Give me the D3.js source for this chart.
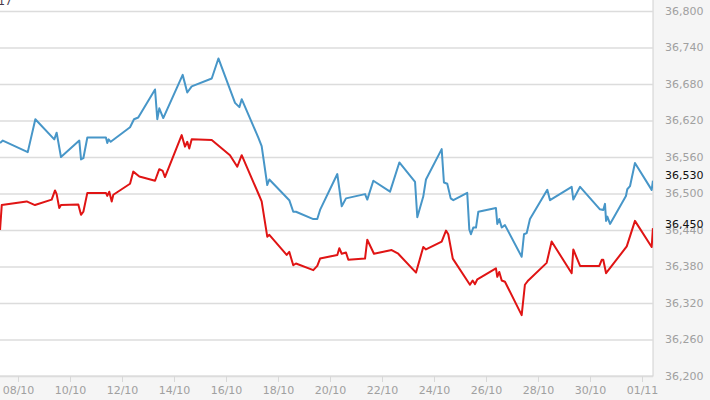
<!DOCTYPE html>
<html>
<head>
<meta charset="utf-8">
<script src="https://cdn.jsdelivr.net/npm/d3@7"></script>
<style>
  html, body { margin: 0; padding: 0; background: #f5f5f5; }
  svg { display: block; }
</style>
</head>
<body>
<div id="chart"></div>
<script>
// ---- Data ----
const year = 2017;
const sellTimes = ["10-07 07:25","10-07 10:00","10-08 09:00","10-08 16:00","10-09 09:30","10-09 11:40","10-09 15:40",
  "10-10 08:35","10-10 10:10","10-10 12:20","10-10 16:00","10-11 09:10","10-11 10:25","10-11 11:40","10-11 13:35",
  "10-12 07:25","10-12 11:05","10-12 15:00","10-13 06:30","10-13 08:35","10-13 10:25","10-13 14:05",
  "10-14 08:00","10-14 12:15","10-14 16:20","10-15 10:50","10-15 17:00","10-16 08:20","10-16 12:20","10-16 14:30",
  "10-17 05:50","10-17 08:55","10-17 14:05","10-17 16:00","10-18 10:25","10-18 14:05","10-18 16:35",
  "10-19 08:35","10-19 12:15","10-19 14:50","10-20 06:45","10-20 10:50","10-20 14:45","10-21 08:20","10-21 10:25","10-21 16:00",
  "10-22 07:25","10-22 16:00","10-23 06:30","10-23 08:35","10-23 14:05","10-23 16:35","10-24 07:05","10-24 09:10","10-24 12:15",
  "10-24 15:25","10-24 17:50","10-25 06:40","10-25 08:35","10-25 10:05","10-25 12:15","10-25 14:45","10-25 16:55",
  "10-26 09:10","10-26 10:25","10-26 12:15","10-26 14:30","10-26 17:30","10-27 08:55","10-27 11:05","10-27 13:35","10-27 16:35",
  "10-28 08:35","10-28 11:05","10-29 07:05","10-29 08:35","10-29 14:50","10-30 09:10","10-30 12:15","10-30 13:50","10-30 14:50",
  "10-30 16:00","10-30 18:30","10-31 09:10","10-31 10:25","10-31 12:55","10-31 17:30","11-01 08:55","11-01 10:05"];
const sellValues = [36583,36587,36568,36622,36589,36600,36560,
  36587,36556,36558,36592,36592,36583,36589,36585,
  36609,36622,36625,36671,36622,36640,36624,
  36695,36666,36676,36689,36722,36649,36642,36655,
  36592,36578,36514,36523,36489,36470,36470,
  36458,36458,36473,36532,36479,36492,36499,36490,36521,
  36503,36551,36519,36461,36495,36523,36573,36518,36516,
  36492,36489,36501,36441,36433,36444,36444,36470,
  36476,36450,36458,36444,36448,36396,36433,36435,36458,
  36506,36489,36511,36490,36511,36474,36473,36483,36455,
  36462,36450,36496,36507,36512,36550,36506,36521];

const buyTimes = ["10-07 07:25","10-07 09:00","10-08 08:00","10-08 15:40","10-09 07:05","10-09 10:10","10-09 11:40","10-09 14:05","10-09 15:40",
  "10-10 07:40","10-10 10:10","10-10 12:20","10-10 16:00","10-11 09:10","10-11 10:25","10-11 12:15","10-11 14:30","10-11 16:00",
  "10-12 07:25","10-12 10:25","10-12 16:00","10-13 06:30","10-13 10:25","10-13 13:35","10-13 15:40",
  "10-14 07:05","10-14 10:10","10-14 12:15","10-14 14:05","10-14 16:20","10-15 10:50","10-16 03:40","10-16 10:25","10-16 14:30",
  "10-17 05:50","10-17 08:55","10-17 14:05","10-17 16:00","10-18 08:00","10-18 10:25","10-18 14:05","10-18 16:35",
  "10-19 08:35","10-19 12:15","10-19 14:50","10-20 06:45","10-20 08:35","10-20 10:50","10-20 14:45","10-20 16:55",
  "10-21 08:20","10-21 10:25","10-21 16:35","10-22 08:55","10-22 15:00","10-23 07:25","10-23 14:05","10-23 16:35",
  "10-24 07:05","10-24 11:05","10-24 13:10","10-24 17:20","10-25 09:10","10-25 11:40","10-25 13:50","10-25 16:00",
  "10-26 09:10","10-26 10:25","10-26 12:15","10-26 14:30","10-26 17:30","10-27 08:55","10-27 11:55","10-27 15:00",
  "10-28 08:00","10-28 12:35","10-29 07:05","10-29 08:35","10-29 14:50","10-30 08:35","10-30 10:50","10-30 12:15","10-30 14:50",
  "10-31 09:55","10-31 17:30","11-01 08:55","11-01 10:05"];
const buyValues = [36440,36481,36487,36481,36490,36505,36499,36476,36481,
  36482,36465,36470,36501,36501,36496,36503,36487,36498,
  36516,36536,36528,36521,36540,36537,36527,
  36596,36577,36585,36574,36589,36588,36563,36544,36563,
  36500,36487,36429,36432,36399,36404,36382,36385,
  36374,36381,36393,36399,36410,36401,36403,36391,
  36393,36424,36401,36407,36401,36370,36412,36408,
  36421,36439,36433,36393,36350,36357,36351,36359,
  36377,36363,36371,36357,36355,36300,36350,36357,
  36386,36421,36369,36408,36381,36381,36391,36391,36369,
  36413,36455,36412,36443];

const xTickDates = ["10-08","10-10","10-12","10-14","10-16","10-18","10-20","10-22","10-24","10-26","10-28","10-30","11-01"];
const xTickLabels = ["08/10","10/10","12/10","14/10","16/10","18/10","20/10","22/10","24/10","26/10","28/10","30/10","01/11"];
const yTicks = [36200,36260,36320,36380,36440,36500,36560,36620,36680,36740,36800];
const currentLabels = [{text: "36,530", value: 36530}, {text: "36,450", value: 36450}];

// ---- Layout ----
const W = 710, H = 400;
const plot = {left: 0, right: 653, top: -20, bottom: 376};

const parseT = d3.timeParse("%Y-%m-%d %H:%M");
const parseD = d3.timeParse("%Y-%m-%d");
const sell = sellTimes.map((t, i) => ({t: parseT(year + "-" + t), v: sellValues[i]}));
const buy = buyTimes.map((t, i) => ({t: parseT(year + "-" + t), v: buyValues[i]}));

const x = d3.scaleTime()
  .domain([parseT(year + "-10-07 07:23"), parseT(year + "-11-01 10:09")])
  .range([plot.left, plot.right]);
const y = d3.scaleLinear().domain([36200, 36800]).range([376, 11]);

const svg = d3.select("#chart").append("svg").attr("width", W).attr("height", H);

svg.append("rect").attr("x", 0).attr("y", 0).attr("width", W).attr("height", H).attr("fill", "#f5f5f5");
svg.append("rect").attr("x", plot.left - 2).attr("y", plot.top).attr("width", plot.right - plot.left + 2)
  .attr("height", plot.bottom - plot.top).attr("fill", "#fff").attr("stroke", "#d0d0d0").attr("stroke-width", 1);

svg.append("defs").append("clipPath").attr("id", "clip")
  .append("rect").attr("x", plot.left).attr("y", plot.top).attr("width", plot.right - plot.left).attr("height", plot.bottom - plot.top);

// grid
const yAxis = d3.axisRight(y).tickValues(yTicks).tickSize(plot.right - plot.left).tickFormat("");
const gy = svg.append("g").attr("transform", `translate(${plot.left},0)`).call(yAxis);
gy.select(".domain").remove();
gy.selectAll("line").attr("stroke", "#dcdcdc").attr("stroke-width", 1.6);

// y labels
svg.append("g").selectAll("text").data(yTicks).join("text")
  .attr("x", 665).attr("y", d => y(d)).attr("dy", "0.36em")
  .attr("font-family", "DejaVu Sans, Verdana, sans-serif").attr("font-size", 11).attr("fill", "#a0a0a0")
  .text(d => d3.format(",")(d));

// x axis
const xAxis = d3.axisBottom(x).tickValues(xTickDates.map(d => parseD(year + "-" + d)))
  .tickSize(6).tickPadding(4).tickFormat((d, i) => xTickLabels[i]);
const gx = svg.append("g").attr("transform", `translate(0,${plot.bottom})`).call(xAxis);
gx.select(".domain").remove();
gx.selectAll("line").attr("stroke", "#d8d8d8");
gx.selectAll("text").attr("font-family", "DejaVu Sans, Verdana, sans-serif").attr("font-size", 11).attr("fill", "#a0a0a0");

// lines
const line = d3.line().x(d => x(d.t)).y(d => y(d.v));
const lines = svg.append("g").attr("clip-path", "url(#clip)");
lines.append("path").datum(sell).attr("d", line).attr("fill", "none")
  .attr("stroke", "#4796c8").attr("stroke-width", 2).attr("stroke-linejoin", "round");
lines.append("path").datum(buy).attr("d", line).attr("fill", "none")
  .attr("stroke", "#e01414").attr("stroke-width", 2).attr("stroke-linejoin", "round");

// current value labels
svg.append("g").selectAll("text").data(currentLabels).join("text")
  .attr("x", 665).attr("y", d => y(d.value)).attr("dy", "0.36em")
  .attr("font-family", "DejaVu Sans, Verdana, sans-serif").attr("font-size", 11).attr("fill", "#111")
  .text(d => d.text);

// clipped title fragment at top-left
svg.append("text").attr("x", -2).attr("y", 5)
  .attr("font-family", "DejaVu Sans, Verdana, sans-serif").attr("font-size", 11).attr("fill", "#4a3a4a")
  .text("17");
</script>
</body>
</html>
